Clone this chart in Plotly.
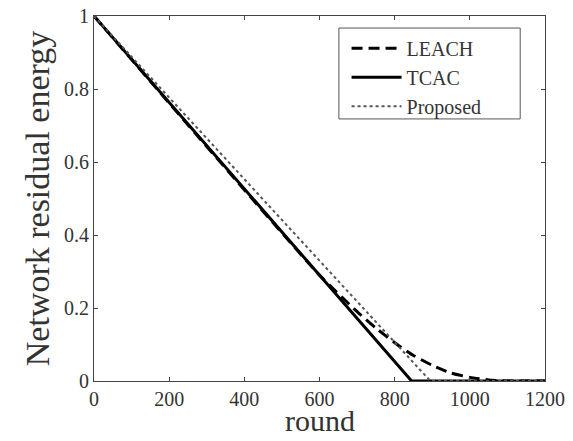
import plotly.graph_objects as go

leach_x = [0, 600, 700, 750, 800, 850, 900, 950, 1000, 1050, 1100, 1150, 1200]
leach_y = [1.0, 0.29, 0.19, 0.145, 0.105, 0.07, 0.043, 0.022, 0.01, 0.003, 0.0, 0.0, 0.0]
tcac_x = [0, 845, 1200]
tcac_y = [1.0, 0.0, 0.0]
prop_x = [0, 600, 800, 895, 1200]
prop_y = [1.0, 0.33, 0.105, 0.0, 0.0]

x_ticks = [0, 200, 400, 600, 800, 1000, 1200]
y_ticks = [0, 0.2, 0.4, 0.6, 0.8, 1]
y_labels = ["0", "0.2", "0.4", "0.6", "0.8", "1"]
x_title = "round"
y_title = "Network residual energy"

font = "Liberation Serif, Times New Roman, serif"
txt = "#333333"

fig = go.Figure()
fig.add_trace(go.Scatter(x=leach_x, y=leach_y, mode="lines", name="LEACH",
                         line=dict(color="black", width=3, dash="11px,6px", shape="spline", smoothing=0.5)))
fig.add_trace(go.Scatter(x=tcac_x, y=tcac_y, mode="lines", name="TCAC",
                         line=dict(color="black", width=3)))
fig.add_trace(go.Scatter(x=prop_x, y=prop_y, mode="lines", name="Proposed",
                         line=dict(color="#555555", width=2, dash="dot")))

axis_common = dict(showgrid=False, zeroline=False, showline=True, linecolor="#444444",
                   linewidth=1, mirror="ticks", ticks="inside", ticklen=4, tickcolor="#444444",
                   automargin=False, ticklabeloverflow="allow",
                   tickfont=dict(family=font, size=20, color=txt))

# legend frame
fig.add_shape(type="rect", xref="paper", yref="paper", x0=0.543, x1=0.945, y0=0.718, y1=0.967,
              line=dict(color="#555555", width=1), fillcolor="white", layer="below")

# x-axis title placed as an annotation for exact vertical placement
fig.add_annotation(text=x_title, xref="paper", yref="paper", x=0.5, y=0,
                   xanchor="center", yanchor="top", yshift=-21, showarrow=False,
                   font=dict(family=font, size=30, color=txt))

fig.update_layout(
    width=573, height=441,
    margin=dict(l=94, r=28, t=16, b=60),
    paper_bgcolor="white", plot_bgcolor="white",
    font=dict(family=font, color=txt),
    xaxis=dict(range=[0, 1200], tickvals=x_ticks, **axis_common),
    yaxis=dict(range=[0, 1], tickvals=y_ticks, ticktext=y_labels,
               title=dict(text=y_title, font=dict(family=font, size=34, color=txt), standoff=4),
               **axis_common),
    legend=dict(x=0.56, y=0.965, xanchor="left", yanchor="top",
                borderwidth=0, bgcolor="rgba(0,0,0,0)",
                font=dict(family=font, size=20, color=txt),
                tracegroupgap=0, itemwidth=50),
    showlegend=True,
)

fig.write_html("out.html", config={"displayModeBar": False},
               post_script="document.body.style.margin='0';document.body.style.overflow='hidden';")
